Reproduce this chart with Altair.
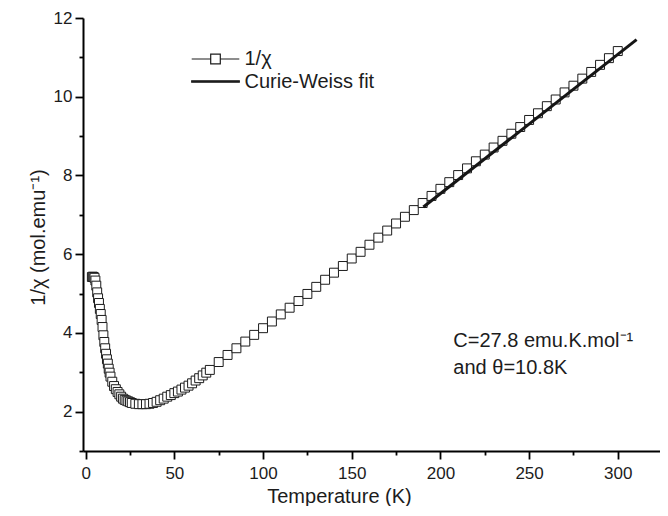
import altair as alt
import pandas as pd

# ---- data ----
T_low = [3.5, 4.0, 4.5, 5.0, 5.5, 6.0, 6.5, 7.0, 7.5, 8.0, 8.5, 9.0, 9.5, 10.0,
         10.5, 11.0, 11.5, 12.0, 12.5, 13.0, 13.5, 14.0, 15, 16, 17, 18, 19, 20,
         21, 22, 23, 24, 25, 26, 28, 30, 32, 34, 36, 38, 40, 42, 44, 46, 48, 50,
         52, 54, 56, 58, 60, 62, 64, 66, 68, 70]
inv_chi_low = [5.42, 5.43, 5.42, 5.40, 5.33, 5.20, 5.03, 4.88, 4.76, 4.61, 4.48, 4.33,
               4.15, 3.94, 3.77, 3.61, 3.47, 3.33, 3.22, 3.09, 2.99, 2.89, 2.76, 2.65,
               2.57, 2.50, 2.44, 2.38, 2.33, 2.30, 2.28, 2.26, 2.24, 2.22, 2.20, 2.19,
               2.19, 2.19, 2.20, 2.22, 2.25, 2.29, 2.33, 2.38, 2.42, 2.47, 2.51, 2.56,
               2.61, 2.66, 2.72, 2.79, 2.85, 2.92, 2.99, 3.06]
T_high = [75, 80, 85, 90, 95, 100, 105, 110, 115, 120, 125, 130, 135, 140, 145, 150,
          155, 160, 165, 170, 175, 180, 185, 190, 195, 200, 205, 210, 215, 220, 225,
          230, 235, 240, 245, 250, 255, 260, 265, 270, 275, 280, 285, 290, 295, 300]
inv_chi_high = [3.26, 3.44, 3.61, 3.78, 3.95, 4.12, 4.29, 4.47, 4.64, 4.81, 4.99, 5.17,
                5.35, 5.53, 5.70, 5.89, 6.06, 6.24, 6.42, 6.60, 6.78, 6.95, 7.12, 7.30,
                7.48, 7.66, 7.83, 8.01, 8.18, 8.36, 8.53, 8.71, 8.88, 9.06, 9.23, 9.41,
                9.58, 9.76, 9.93, 10.11, 10.28, 10.46, 10.63, 10.81, 10.98, 11.16]
fit_T = [190.4, 310.6]
fit_val = [7.20, 11.45]

x_major = [0, 50, 100, 150, 200, 250, 300]
x_minor = [25, 75, 125, 175, 225, 275, 325]
y_major = [2, 4, 6, 8, 10, 12]
y_minor = [1, 3, 5, 7, 9, 11]

legend_names = ["1/χ", "Curie-Weiss fit"]
note_T = [207.3, 207.3]
note_val = [3.64, 2.96]
note_text = ["C=27.8 emu.K.mol⁻¹", "and θ=10.8K"]

# ---- tables ----
data = pd.DataFrame({"T": T_low + T_high, "v": inv_chi_low + inv_chi_high})
data["kind"] = "marker"
fit = pd.DataFrame({"T": fit_T, "v": fit_val})
notes = pd.DataFrame({"T": note_T, "v": note_val, "label": note_text})

FONT = "Liberation Sans"
INK = "#1c1c1c"
AX = "#000000"

xscale = alt.Scale(domain=[-1.5, 323.8], nice=False, zero=False)
yscale = alt.Scale(domain=[1, 12], nice=False, zero=False)

common = dict(domainColor=AX, tickColor=AX, domainWidth=2, tickWidth=1.8,
              domainOpacity=1, tickOpacity=1, grid=False)

ax_x_major = alt.Axis(values=x_major, orient="bottom", tickSize=8, labelPadding=6,
                      title="Temperature (K)", titleX=256, titleY=45,
                      titleBaseline="middle", labelFlush=False, format="d", **common)
ax_x_minor = alt.Axis(values=x_minor, orient="bottom", tickSize=4, labels=False,
                      domain=False, title=None, tickColor=AX, tickWidth=1.8, grid=False)
ax_y_major = alt.Axis(values=y_major, orient="left", tickSize=8, labelPadding=3,
                      title="1/χ (mol.emu⁻¹)", titleX=-45, titleY=219,
                      titleAngle=270, titleBaseline="middle", titleAlign="center",
                      labelFlush=False, format="d", **common)
ax_y_minor = alt.Axis(values=y_minor, orient="left", tickSize=4, labels=False,
                      domain=False, title=None, tickColor=AX, tickWidth=1.8, grid=False)

sym_line_square = "M-2.38,0H-0.48M0.48,0H2.38M-0.48,-0.48H0.48V0.48H-0.48Z"
sym_thick = "M-2.38,-0.07H2.38V0.07H-2.38Z"
kind_domain = ["marker"] + legend_names
shape_scale = alt.Scale(domain=kind_domain, range=["square", sym_line_square, sym_thick])
fill_scale = alt.Scale(domain=kind_domain, range=["white", "white", INK])
stroke_scale = alt.Scale(domain=kind_domain, range=[INK, INK, INK])
leg = alt.Legend(title=None, orient="none", legendX=121.5, legendY=30,
                 values=legend_names, symbolSize=400, symbolStrokeWidth=1.2,
                 labelFontSize=20, labelFont=FONT,
                 labelColor=INK, labelOffset=18, rowPadding=1.5, padding=0,
                 labelLimit=400)

line = alt.Chart(data).mark_line(color=INK, strokeWidth=1).encode(
    x=alt.X("T:Q", scale=xscale, axis=ax_x_major),
    y=alt.Y("v:Q", scale=yscale, axis=ax_y_major),
)
points = alt.Chart(data).mark_point(size=80, strokeWidth=1, opacity=1).encode(
    x=alt.X("T:Q", scale=xscale, axis=None),
    y=alt.Y("v:Q", scale=yscale, axis=None),
    shape=alt.Shape("kind:N", scale=shape_scale, legend=leg),
    fill=alt.Fill("kind:N", scale=fill_scale, legend=leg),
    stroke=alt.Stroke("kind:N", scale=stroke_scale, legend=leg),
)
fitline = alt.Chart(fit).mark_line(color="#151515", strokeWidth=3).encode(
    x=alt.X("T:Q", scale=xscale, axis=ax_x_minor),
    y=alt.Y("v:Q", scale=yscale, axis=ax_y_minor),
)
text = alt.Chart(notes).mark_text(align="left", baseline="alphabetic", fontSize=20,
                                  font=FONT, color=INK).encode(
    x=alt.X("T:Q", scale=xscale, axis=None),
    y=alt.Y("v:Q", scale=yscale, axis=None),
    text="label:N",
)

chart = alt.layer(line, points, fitline, text).resolve_axis(
    x="independent", y="independent"
).properties(
    width=577, height=433,
    padding={"left": 75, "top": 10, "right": 0, "bottom": 55},
    autosize=alt.AutoSizeParams(type="none"),
).configure_view(stroke=None).configure_axis(
    labelFont=FONT, titleFont=FONT, labelFontSize=17, titleFontSize=20,
    titleFontWeight="normal", labelColor=INK, titleColor=INK,
)

chart.save("out.html", embed_options={"renderer": "svg", "actions": False})
